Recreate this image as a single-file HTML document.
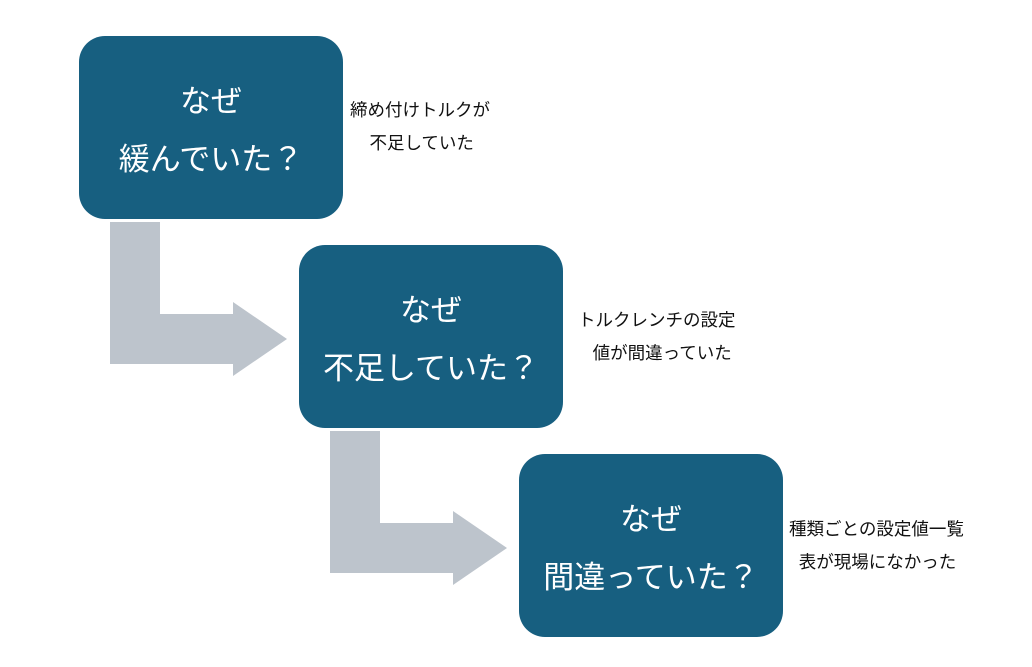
<!DOCTYPE html>
<html><head><meta charset="utf-8"><style>
body{margin:0;width:1032px;height:667px;background:#fff;position:relative;overflow:hidden;font-family:"Liberation Sans","Noto Sans CJK JP",sans-serif}
.b{position:absolute;width:264px;height:183px;background:#175F80;border-radius:26px;color:#fff;font-size:31px;text-align:center;line-height:58px;box-sizing:border-box;padding-top:37px}
.t{position:absolute;font-size:17.5px;line-height:33px;color:#111}
svg{position:absolute;left:0;top:0}
</style></head><body>
<svg width="1032" height="667">
<polygon fill="#BDC4CC" points="110,222 160,222 160,314 233,314 233,302 287,339 233,376 233,364 110,364"/>
<polygon fill="#BDC4CC" points="330,431 380,431 380,523 453,523 453,511 507,548 453,585 453,573 330,573"/>
</svg>
<div class="b" style="left:79px;top:36px">なぜ<br>緩んでいた？</div>
<div class="b" style="left:299px;top:245px">なぜ<br>不足していた？</div>
<div class="b" style="left:519px;top:454px">なぜ<br>間違っていた？</div>
<div class="t" style="left:350px;top:94px">締め付けトルクが<br>&nbsp;&nbsp;&nbsp;&nbsp;不足していた</div>
<div class="t" style="left:578px;top:304px">トルクレンチの設定<br>&nbsp;&nbsp;&nbsp;値が間違っていた</div>
<div class="t" style="left:789px;top:513px">種類ごとの設定値一覧<br>&nbsp;&nbsp;表が現場になかった</div>
</body></html>
